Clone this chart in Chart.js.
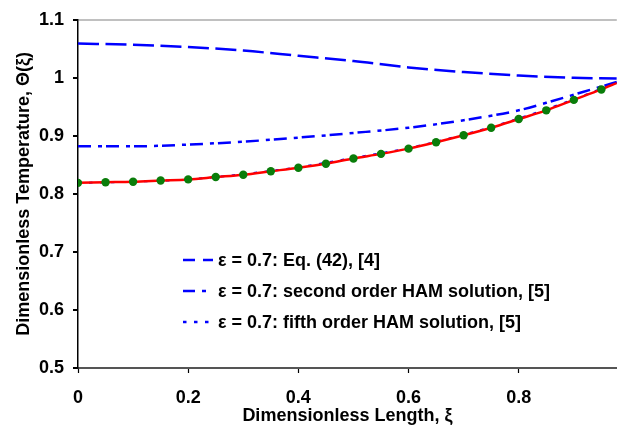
<!DOCTYPE html>
<html>
<head>
<meta charset="utf-8">
<script src="https://cdn.jsdelivr.net/npm/chart.js@4/dist/chart.umd.min.js"></script>
<style>
  html, body { margin: 0; padding: 0; background: #fff; }
  #wrap { width: 621px; height: 425px; position: relative; }
</style>
</head>
<body>
<div id="wrap"><canvas id="c" width="621" height="425"></canvas></div>
<script>
// ---- Data ----
const xTicks = [0, 0.2, 0.4, 0.6, 0.8];
const yTicks = [0.5, 0.6, 0.7, 0.8, 0.9, 1.0, 1.1];

// Green markers (numerical points)
const xDots = [0, 0.05, 0.1, 0.15, 0.2, 0.25, 0.3, 0.35, 0.4, 0.45, 0.5, 0.55, 0.6, 0.65, 0.7, 0.75, 0.8, 0.85, 0.9, 0.95];
const thetaDots = [0.819, 0.820, 0.821, 0.823, 0.825, 0.829, 0.833, 0.839, 0.845, 0.852, 0.861, 0.869, 0.878, 0.889, 0.901, 0.914, 0.929, 0.944, 0.962, 0.980];

// Red solid curve
const xRed = [0, 0.05, 0.1, 0.15, 0.2, 0.25, 0.3, 0.35, 0.4, 0.45, 0.5, 0.55, 0.6, 0.65, 0.7, 0.75, 0.8, 0.85, 0.9, 0.95, 0.978];
const thetaRed = [0.819, 0.820, 0.821, 0.823, 0.825, 0.829, 0.833, 0.839, 0.845, 0.852, 0.861, 0.869, 0.878, 0.889, 0.901, 0.914, 0.929, 0.944, 0.962, 0.980, 0.991];

// Eq. (42), [4]  (dashed)
const xEq42 = [0, 0.1, 0.2, 0.3, 0.4, 0.5, 0.6, 0.7, 0.8, 0.9, 0.978];
const thetaEq42 = [1.059, 1.057, 1.053, 1.047, 1.038, 1.029, 1.018, 1.010, 1.004, 1.000, 0.999];

// second order HAM (dash-dot)
const xHam2 = [0, 0.1, 0.2, 0.3, 0.4, 0.5, 0.6, 0.7, 0.8, 0.85, 0.9, 0.95, 0.978];
const thetaHam2 = [0.882, 0.882, 0.885, 0.890, 0.897, 0.905, 0.914, 0.927, 0.944, 0.957, 0.971, 0.985, 0.993];

// fifth order HAM (dotted)
const xHam5 = [0, 0.1, 0.2, 0.3, 0.4, 0.5, 0.6, 0.7, 0.8, 0.9, 0.978];
const thetaHam5 = [0.819, 0.821, 0.825, 0.834, 0.846, 0.862, 0.879, 0.902, 0.930, 0.963, 0.992];

const legendLabels = [
  'ε = 0.7: Eq. (42), [4]',
  'ε = 0.7: second order HAM solution, [5]',
  'ε = 0.7: fifth order HAM solution, [5]'
];

const xMin = 0, xMax = 0.978, yMin = 0.5, yMax = 1.1;

const pts = (xs, ys) => xs.map((x, i) => ({ x: x, y: ys[i] }));
const FONT = "'Liberation Sans', Arial, sans-serif";
const BLUE = '#0000ff';

const legendPlugin = {
  id: 'insideLegend',
  afterDraw(chart) {
    const ctx = chart.ctx;
    const rows = [
      { dash: [12, 8], y: 260 },
      { dash: [12, 7, 4, 50], y: 291 },
      { dash: [3.5, 7.5], y: 322 }
    ];
    ctx.save();
    rows.forEach((r, i) => {
      ctx.beginPath();
      ctx.strokeStyle = BLUE;
      ctx.lineWidth = 2.5;
      ctx.setLineDash(r.dash);
      ctx.moveTo(183, r.y);
      ctx.lineTo(213, r.y);
      ctx.stroke();
      ctx.setLineDash([]);
      ctx.fillStyle = '#000';
      ctx.font = 'bold 18px ' + FONT;
      ctx.textAlign = 'left';
      ctx.textBaseline = 'middle';
      ctx.fillText(legendLabels[i], 218, r.y + 1);
    });
    ctx.restore();
  }
};

new Chart(document.getElementById('c'), {
  type: 'line',
  data: {
    datasets: [
      { label: 'points', data: pts(xDots, thetaDots), showLine: false,
        pointRadius: 4.2, pointBackgroundColor: '#0a7d0a', pointBorderColor: '#0a7d0a', pointBorderWidth: 0 },
      { label: 'exact', data: pts(xRed, thetaRed), borderColor: '#ff0000', borderWidth: 2.5,
        pointRadius: 0, cubicInterpolationMode: 'monotone' },
      { label: legendLabels[0], data: pts(xEq42, thetaEq42), borderColor: BLUE, borderWidth: 2.5,
        borderDash: [21, 6.5], pointRadius: 0, cubicInterpolationMode: 'monotone' },
      { label: legendLabels[1], data: pts(xHam2, thetaHam2), borderColor: BLUE, borderWidth: 2.5,
        borderDash: [13, 7, 4, 4], pointRadius: 0, cubicInterpolationMode: 'monotone' },
      { label: legendLabels[2], data: pts(xHam5, thetaHam5), borderColor: BLUE, borderWidth: 2,
        borderDash: [3.5, 7.5], pointRadius: 0, cubicInterpolationMode: 'monotone' }
    ]
  },
  options: {
    responsive: false,
    animation: false,
    layout: { padding: { top: 19, right: 0, left: 0, bottom: 0 } },
    plugins: { legend: { display: false }, tooltip: { enabled: false } },
    scales: {
      x: {
        type: 'linear', min: xMin, max: xMax,
        afterBuildTicks: s => { s.ticks = xTicks.map(v => ({ value: v })); },
        afterFit: s => { s.height = 57; },
        ticks: { color: '#000', font: { family: FONT, size: 18, weight: 'bold' }, padding: 14,
                 maxRotation: 0, autoSkip: false, callback: v => String(+Number(v).toFixed(1)) },
        grid: { drawOnChartArea: false, tickLength: 5, tickColor: '#000', tickWidth: 1.2 },
        border: { color: '#555', width: 2 },
        title: { display: true, text: 'Dimensionless Length, ξ', color: '#000',
                 font: { family: FONT, size: 18, weight: 'bold' }, padding: { top: 0, bottom: -2 } }
      },
      y: {
        type: 'linear', min: yMin, max: yMax,
        afterBuildTicks: s => { s.ticks = yTicks.map(v => ({ value: v })); },
        afterFit: s => { s.width = 78; },
        ticks: { color: '#000', font: { family: FONT, size: 18, weight: 'bold' }, padding: 9,
                 callback: v => String(+Number(v).toFixed(1)) },
        grid: { tickLength: 5, tickColor: '#000',
                color: c => (c.tick && Math.abs(c.tick.value - 1.1) < 1e-6) ? '#c0c0c0' : 'rgba(0,0,0,0)',
                lineWidth: 2 },
        border: { color: '#000', width: 1.5 },
        title: { display: true, text: 'Dimensionless Temperature, Θ(ξ)', color: '#000',
                 font: { family: FONT, size: 18, weight: 'bold' }, padding: { top: 13, bottom: 0 } }
      }
    }
  },
  plugins: [legendPlugin]
});
</script>
</body>
</html>
